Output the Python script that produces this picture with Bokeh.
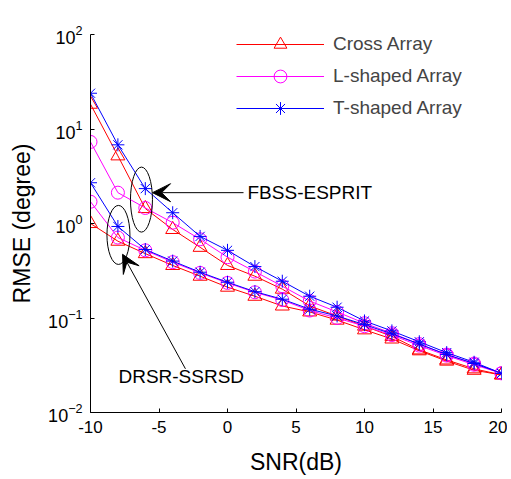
from bokeh.plotting import figure
from bokeh.models import Legend, LegendItem, Arrow, VeeHead, Label, FixedTicker
from bokeh.embed import file_html
from bokeh.resources import INLINE

FONT = "Liberation Sans"

snr = [-10, -8, -6, -4, -2, 0, 2, 4, 6, 8, 10, 12, 14, 16, 18, 20]

# FBSS-ESPRIT group
cross_fbss = [18.3, 5.2, 1.44, 0.865, 0.56, 0.36, 0.277, 0.202, 0.134, 0.105, 0.082, 0.064, 0.046, 0.036, 0.029, 0.025]
l_fbss = [7.3, 2.12, 1.46, 1.02, 0.68, 0.44, 0.31, 0.217, 0.151, 0.116, 0.088, 0.069, 0.053, 0.041, 0.033, 0.026]
t_fbss = [23.9, 6.8, 2.34, 1.30, 0.73, 0.52, 0.35, 0.245, 0.17, 0.13, 0.093, 0.073, 0.056, 0.043, 0.034, 0.026]

# DRSR-SSRSD group
cross_drsr = [1.0, 0.65, 0.48, 0.36, 0.277, 0.212, 0.17, 0.134, 0.116, 0.095, 0.075, 0.06, 0.045, 0.035, 0.028, 0.025]
l_drsr = [1.70, 0.71, 0.52, 0.39, 0.30, 0.235, 0.187, 0.155, 0.12, 0.10, 0.082, 0.066, 0.051, 0.040, 0.032, 0.026]
t_drsr = [2.7, 0.93, 0.53, 0.40, 0.305, 0.239, 0.19, 0.158, 0.124, 0.105, 0.085, 0.068, 0.053, 0.041, 0.033, 0.026]

x_ticks = [-10, -5, 0, 5, 10, 15, 20]
x_tick_labels = ["-10", "-5", "0", "5", "10", "15", "20"]
y_ticks = [0.01, 0.1, 1, 10, 100]

p = figure(width=507, height=477, y_axis_type="log", x_range=(-10, 20), y_range=(0.01, 100),
           output_backend="svg", toolbar_location=None,
           min_border_left=90, min_border_right=6, min_border_top=34, min_border_bottom=63)
p.outline_line_color = None
p.grid.visible = False
p.background_fill_color = "white"

p.xaxis.ticker = FixedTicker(ticks=x_ticks)
p.xaxis.major_label_overrides = dict(zip(x_ticks, x_tick_labels))
p.yaxis.ticker = FixedTicker(ticks=y_ticks)
for ax in (p.xaxis[0], p.yaxis[0]):
    ax.major_tick_in = 4
    ax.major_tick_out = 0
    ax.minor_tick_in = 0
    ax.minor_tick_out = 0
    ax.axis_line_color = "black"
    ax.major_tick_line_color = "black"
    ax.major_label_text_font = FONT
    ax.major_label_text_font_size = "17px"
    ax.major_label_text_color = "black"
    ax.axis_label_text_font = FONT
    ax.axis_label_text_font_size = "23px"
    ax.axis_label_text_font_style = "normal"
    ax.axis_label_text_color = "black"
p.yaxis.major_label_text_font_size = "18px"
p.xaxis.axis_label = "SNR(dB)"
p.yaxis.axis_label = "RMSE (degree)"
p.xaxis.major_label_standoff = 8
p.xaxis.axis_label_standoff = 13
p.yaxis.major_label_standoff = 8
p.yaxis.axis_label_standoff = 10

RED = "#ff0000"
MAG = "#ff00ff"
BLUE = "#0000ff"

series = [
    (cross_fbss, RED, "triangle", 14, "Cross Array"),
    (l_fbss, MAG, "circle", 13, "L-shaped Array"),
    (t_fbss, BLUE, "asterisk", 13, "T-shaped Array"),
    (cross_drsr, RED, "triangle", 14, None),
    (l_drsr, MAG, "circle", 13, None),
    (t_drsr, BLUE, "asterisk", 13, None),
]
items = []
for ys, col, mk, sz, lab in series:
    ln = p.line(snr, ys, line_color=col, line_width=1)
    sc = p.scatter(snr, ys, marker=mk, size=sz, line_color=col, fill_color=None, line_width=1)
    if lab:
        items.append(LegendItem(label=lab, renderers=[ln, sc]))

legend = Legend(items=items, location=(146, 288), border_line_color=None, background_fill_alpha=0,
                padding=0, margin=0, spacing=0, glyph_width=88, glyph_height=32, label_height=32,
                label_standoff=9, label_text_font=FONT, label_text_font_size="19px")
p.add_layout(legend, "center")

# ellipses (screen-sized) around groups
p.ellipse(x=[-6.28, -7.96], y=[1.79, 0.757], width=[22, 23], height=[65, 59],
          width_units="screen", height_units="screen", fill_color=None, line_color="black", line_width=1)

p.add_layout(Arrow(end=VeeHead(size=18, fill_color="black", line_color="black"),
                   x_start=1.17, y_start=2.12, x_end=-5.47, y_end=2.12, line_width=1, line_color="black"))
p.add_layout(Arrow(end=VeeHead(size=18, fill_color="black", line_color="black"),
                   x_start=-3.07, y_start=0.029, x_end=-7.66, y_end=0.472, line_width=1, line_color="black"))
p.add_layout(Label(x=1.46, y=2.12, text="FBSS-ESPRIT", text_baseline="middle",
                   text_font=FONT, text_font_size="19px", text_color="black"))
p.add_layout(Label(x=-7.96, y=0.0239, text="DRSR-SSRSD", text_baseline="middle",
                   text_font=FONT, text_font_size="19px", text_color="black"))

open("out.html", "w").write(file_html(p, INLINE))
